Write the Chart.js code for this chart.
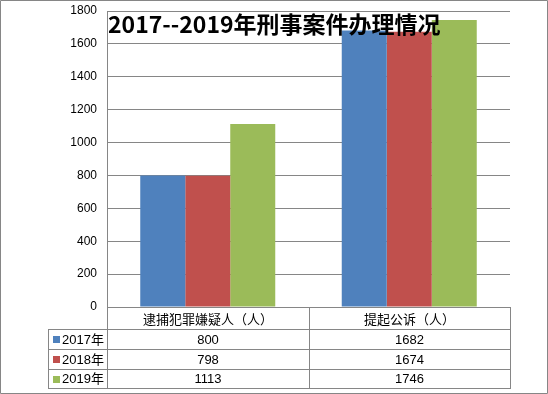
<!DOCTYPE html>
<html>
<head>
<meta charset="utf-8">
<script src="https://cdn.jsdelivr.net/npm/chart.js@4/dist/chart.umd.min.js"></script>
<style>
  html, body { margin: 0; padding: 0; background: #fff; }
  canvas { display: block; }
</style>
</head>
<body>
<canvas id="caseChart" width="548" height="394"></canvas>
<script>
// chart data
const titleText = '2017--2019年刑事案件办理情况';
const categories = ['逮捕犯罪嫌疑人（人）', '提起公诉（人）'];
const seriesNames = ['2017年', '2018年', '2019年'];
const values2017 = [800, 1682];
const values2018 = [798, 1674];
const values2019 = [1113, 1746];
const yMin = 0;
const yMax = 1800;
const yStep = 200;

const colors = ['#4F81BD', '#C0504D', '#9BBB59'];
const lineColor = '#868686';
const cjkFont = "'Noto Sans CJK SC', 'Liberation Sans', sans-serif";
const numFont = "'Liberation Sans', 'Noto Sans CJK SC', sans-serif";

const seriesValues = [values2017, values2018, values2019];

// title drawn over the plot, plus the Excel style data table and outer frame
const overlayPlugin = {
    id: 'overlay',
    afterDraw(chart) {
        const ctx = chart.ctx;
        const area = chart.chartArea;
        const xScale = chart.scales.x;

        const tableLeft = 48;
        const headerTop = area.bottom;
        const rowLines = [area.bottom, 329, 349, 369, 388];

        // category borders from the x scale
        const edges = [area.left];
        for (let i = 0; i < categories.length - 1; i++) {
            edges.push(Math.round((xScale.getPixelForValue(i) + xScale.getPixelForValue(i + 1)) / 2));
        }
        edges.push(area.right);

        ctx.save();
        ctx.strokeStyle = lineColor;
        ctx.lineWidth = 1;
        ctx.beginPath();
        // header row top (axis line) and vertical borders
        ctx.moveTo(area.left, headerTop + 0.5);
        ctx.lineTo(area.right, headerTop + 0.5);
        rowLines.slice(1).forEach(y => {
            ctx.moveTo(tableLeft, y + 0.5);
            ctx.lineTo(area.right, y + 0.5);
        });
        edges.forEach(x => {
            ctx.moveTo(x + 0.5, headerTop);
            ctx.lineTo(x + 0.5, rowLines[4] + 1);
        });
        ctx.moveTo(tableLeft + 0.5, rowLines[1]);
        ctx.lineTo(tableLeft + 0.5, rowLines[4] + 1);
        // outer frame
        ctx.rect(0.5, 0.5, chart.width - 1, chart.height - 1);
        ctx.stroke();

        ctx.fillStyle = '#000';
        ctx.textAlign = 'center';
        ctx.textBaseline = 'middle';

        // category header
        ctx.font = '13px ' + cjkFont;
        categories.forEach((cat, i) => {
            const cx = (edges[i] + edges[i + 1]) / 2;
            ctx.fillText(cat, cx, (rowLines[0] + rowLines[1]) / 2 + 1);
        });

        // value rows with legend keys
        seriesNames.forEach((name, s) => {
            const cy = (rowLines[s + 1] + rowLines[s + 2]) / 2 + 1;
            ctx.font = '13px ' + numFont;
            ctx.textAlign = 'center';
            seriesValues[s].forEach((v, i) => {
                ctx.fillText(String(v), (edges[i] + edges[i + 1]) / 2, cy);
            });
            ctx.fillStyle = colors[s];
            ctx.fillRect(53, Math.round(cy) - 4, 7, 7);
            ctx.fillStyle = '#000';
            ctx.textAlign = 'left';
            ctx.font = '13px ' + numFont;
            ctx.fillText(name, 62, cy);
        });

        // title sits on top of the bars
        ctx.textAlign = 'left';
        ctx.font = 'bold 23px ' + cjkFont;
        ctx.fillText(titleText, 108, 24);
        ctx.restore();
    }
};

const ctx = document.getElementById('caseChart').getContext('2d');

new Chart(ctx, {
    type: 'bar',
    data: {
        labels: categories,
        datasets: seriesNames.map((name, i) => ({
            label: name,
            data: seriesValues[i],
            backgroundColor: colors[i],
            borderWidth: 0,
            categoryPercentage: 0.67,
            barPercentage: 1.0
        }))
    },
    options: {
        responsive: false,
        animation: false,
        devicePixelRatio: 1,
        layout: {
            padding: { top: 11, right: 38, bottom: 87, left: 0 }
        },
        plugins: {
            legend: { display: false },
            title: { display: false },
            tooltip: { enabled: false }
        },
        scales: {
            x: {
                display: false
            },
            y: {
                min: yMin,
                max: yMax,
                afterFit(scale) {
                    scale.width = 107;
                    // keep the tick padding from pushing the plot down
                    scale.paddingTop = 0;
                    scale.paddingBottom = 0;
                },
                border: { color: lineColor, width: 1 },
                grid: {
                    color: lineColor,
                    lineWidth: 1,
                    drawTicks: false
                },
                ticks: {
                    stepSize: yStep,
                    padding: 10,
                    color: '#000',
                    font: { family: numFont, size: 12 },
                    callback: value => String(value)
                }
            }
        }
    },
    plugins: [overlayPlugin]
});
</script>
</body>
</html>
